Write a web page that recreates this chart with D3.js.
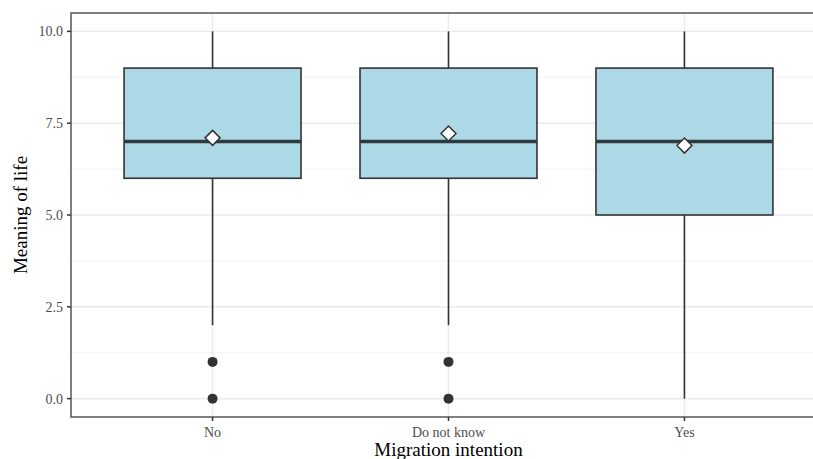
<!DOCTYPE html>
<html><head><meta charset="utf-8">
<script src="https://cdn.jsdelivr.net/npm/d3@7"></script>
<style>body{margin:0;background:#fff}svg{display:block}</style>
</head><body>
<script>
const categories = ["No", "Do not know", "Yes"];
const q1 = [6, 6, 5];
const median = [7, 7, 7];
const q3 = [9, 9, 9];
const whiskerLow = [2, 2, 0];
const whiskerHigh = [10, 10, 10];
const means = [7.1, 7.22, 6.89];
const outliers = [[0, 1], [0, 1], []];
const yTicks = [0, 2.5, 5, 7.5, 10];
const yMinor = [1.25, 3.75, 6.25, 8.75];

(function () {
const W = 813, H = 459;
const svg = d3.select("body").append("svg").attr("width", W).attr("height", H);
const pL = 71, pT = 13, pR = 826, pB = 417;

// ggplot discrete axis: 0.6 expansion on each side
const x = d3.scalePoint().domain(categories).range([pL, pR]).padding(0.6);
const step = x.step();
const cx = c => x(c);
const y = d3.scaleLinear().domain([-0.5, 10.5]).range([pB, pT]);

const font = "'Liberation Serif', 'Times New Roman', serif";
const g = svg.append("g");
// grid
g.selectAll(".minor").data(yMinor).join("line")
  .attr("x1", pL).attr("x2", pR).attr("y1", d => y(d)).attr("y2", d => y(d))
  .attr("stroke", "#f2f2f2").attr("stroke-width", 1);
g.selectAll(".major").data(yTicks).join("line")
  .attr("x1", pL).attr("x2", pR).attr("y1", d => y(d)).attr("y2", d => y(d))
  .attr("stroke", "#ebebeb").attr("stroke-width", 1.5);
g.selectAll(".vmajor").data(categories).join("line")
  .attr("x1", d => cx(d)).attr("x2", d => cx(d)).attr("y1", pT).attr("y2", pB)
  .attr("stroke", "#ebebeb").attr("stroke-width", 1.5);

const bw = step * 0.75;
const data = categories.map((c, i) => ({c, i}));
// whiskers
g.selectAll(".wl").data(data).join("line")
  .attr("x1", d => cx(d.c)).attr("x2", d => cx(d.c))
  .attr("y1", d => y(whiskerLow[d.i])).attr("y2", d => y(q1[d.i]))
  .attr("stroke", "#333").attr("stroke-width", 1.6);
g.selectAll(".wh").data(data).join("line")
  .attr("x1", d => cx(d.c)).attr("x2", d => cx(d.c))
  .attr("y1", d => y(whiskerHigh[d.i])).attr("y2", d => y(q3[d.i]))
  .attr("stroke", "#333").attr("stroke-width", 1.6);
// boxes
g.selectAll(".box").data(data).join("rect")
  .attr("x", d => cx(d.c) - bw / 2).attr("width", bw)
  .attr("y", d => y(q3[d.i])).attr("height", d => y(q1[d.i]) - y(q3[d.i]))
  .attr("fill", "#add8e6").attr("stroke", "#333").attr("stroke-width", 1.6);
g.selectAll(".med").data(data).join("line")
  .attr("x1", d => cx(d.c) - bw / 2).attr("x2", d => cx(d.c) + bw / 2)
  .attr("y1", d => y(median[d.i])).attr("y2", d => y(median[d.i]))
  .attr("stroke", "#2f3b3f").attr("stroke-width", 3.5);
// outliers
const outs = [];
categories.forEach((c, i) => outliers[i].forEach(v => outs.push({c, v})));
g.selectAll(".out").data(outs).join("circle")
  .attr("cx", d => cx(d.c)).attr("cy", d => y(d.v)).attr("r", 5).attr("fill", "#333");
// means (diamond)
const dsz = 7.5;
g.selectAll(".mean").data(data).join("path")
  .attr("d", d => { const px = cx(d.c), py = y(means[d.i]);
    return `M${px},${py - dsz}L${px + dsz},${py}L${px},${py + dsz}L${px - dsz},${py}Z`; })
  .attr("fill", "#fff").attr("stroke", "#333").attr("stroke-width", 1.5);

// panel border
g.append("rect").attr("x", pL).attr("y", pT).attr("width", pR - pL).attr("height", pB - pT)
  .attr("fill", "none").attr("stroke", "#555").attr("stroke-width", 1.5);

// y axis
yTicks.forEach(t => {
  g.append("line").attr("x1", pL - 4).attr("x2", pL).attr("y1", y(t)).attr("y2", y(t))
    .attr("stroke", "#333").attr("stroke-width", 1.5);
  g.append("text").attr("x", pL - 8).attr("y", y(t)).attr("dy", "0.35em")
    .attr("text-anchor", "end").attr("font-family", font).attr("font-size", 14)
    .attr("fill", "#4d4d4d").text(d3.format(".1f")(t));
});
// x axis
categories.forEach(c => {
  g.append("line").attr("x1", cx(c)).attr("x2", cx(c)).attr("y1", pB).attr("y2", pB + 4)
    .attr("stroke", "#333").attr("stroke-width", 1.5);
  g.append("text").attr("x", cx(c)).attr("y", pB + 20)
    .attr("text-anchor", "middle").attr("font-family", font).attr("font-size", 14)
    .attr("fill", "#4d4d4d").text(c);
});
svg.append("text").attr("x", cx(categories[1])).attr("y", 456)
  .attr("text-anchor", "middle").attr("font-family", font).attr("font-size", 19)
  .attr("fill", "#000").text("Migration intention");
svg.append("text").attr("transform", `translate(27,215) rotate(-90)`)
  .attr("text-anchor", "middle").attr("font-family", font).attr("font-size", 19)
  .attr("fill", "#000").text("Meaning of life");
})();
</script>
</body></html>
